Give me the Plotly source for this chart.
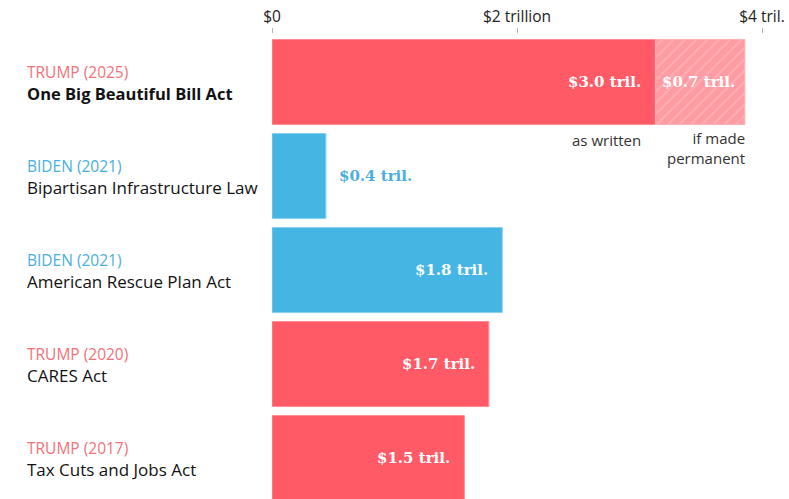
import plotly.graph_objects as go

# ---- data ----
parties = ["TRUMP (2025)", "BIDEN (2021)", "BIDEN (2021)", "TRUMP (2020)", "TRUMP (2017)"]
bills = ["One Big Beautiful Bill Act", "Bipartisan Infrastructure Law",
         "American Rescue Plan Act", "CARES Act", "Tax Cuts and Jobs Act"]
party_keys = ["R", "D", "D", "R", "R"]
values = [3.13, 0.44, 1.88, 1.77, 1.57]          # bar lengths, trillions
value_labels = ["$3.0 tril.", "$0.4 tril.", "$1.8 tril.", "$1.7 tril.", "$1.5 tril."]
extension_value = 0.73                            # OBBBA if made permanent
extension_label = "$0.7 tril."
tick_vals = [0, 2, 4]
tick_text = ["$0", "$2 trillion", "$4 tril."]

# ---- styles ----
RED = "#ff5a66"
RED_LINE = "#ff8d95"
BLUE = "#45b6e3"
BLUE_LINE = "#86d0ef"
RED_TXT = "#f57179"
BLUE_TXT = "#4aafe0"
bar_colors = [RED if p == "R" else BLUE for p in party_keys]
line_colors = [RED_LINE if p == "R" else BLUE_LINE for p in party_keys]
party_colors = [RED_TXT if p == "R" else BLUE_TXT for p in party_keys]
SANS = "Open Sans"
LABEL_FONT = "DejaVu Serif"

ypos = list(range(len(bills)))
BARW = 0.905

fig = go.Figure()
fig.add_trace(go.Bar(
    x=values, y=ypos, orientation="h", width=BARW,
    marker=dict(color=bar_colors, line=dict(color=line_colors, width=1)),
    hoverinfo="skip", showlegend=False,
))
fig.add_trace(go.Bar(
    x=[extension_value], y=[0], base=[values[0]], orientation="h", width=BARW,
    marker=dict(color="#ff9ca3", line=dict(color="#ffb0b6", width=1),
                pattern=dict(shape="/", fgcolor="#ffc8cc", size=8, solidity=0.2,
                             fillmode="overlay")),
    hoverinfo="skip", showlegend=False,
))

ann = []
for i, (v, lab, pk) in enumerate(zip(values, value_labels, party_keys)):
    if v < 1.0:
        ann.append(dict(x=v, y=i, xref="x", yref="y", text=f"<b>{lab}</b>",
                        xanchor="left", yanchor="middle", xshift=11, showarrow=False,
                        font=dict(family=LABEL_FONT, size=15, color=BLUE_TXT)))
    else:
        ann.append(dict(x=v, y=i, xref="x", yref="y", text=f"<b>{lab}</b>",
                        xanchor="right", yanchor="middle", xshift=-12, showarrow=False,
                        font=dict(family=LABEL_FONT, size=15, color="white")))
ann.append(dict(x=values[0] + extension_value, y=0, xref="x", yref="y",
                text=f"<b>{extension_label}</b>", xanchor="right", yanchor="middle",
                xshift=-8, showarrow=False,
                font=dict(family=LABEL_FONT, size=15, color="white")))

# left labels
for i, (p, b, c) in enumerate(zip(parties, bills, party_colors)):
    ann.append(dict(x=-0.505, y=i, xref="paper", yref="y", text=p, xanchor="left",
                    yanchor="middle", yshift=10, showarrow=False,
                    font=dict(family=SANS, size=15.5, color=c)))
    ann.append(dict(x=-0.505, y=i, xref="paper", yref="y",
                    text=(f"<b>{b}</b>" if i == 0 else b), xanchor="left",
                    yanchor="middle", yshift=-11, showarrow=False,
                    font=dict(family=SANS, size=(16.5 if i == 0 else 17), color="#121212")))

# notes under first bar
ann.append(dict(x=values[0], y=0.617, xref="x", yref="y", text="as written",
                xanchor="right", yanchor="middle", xshift=-12, showarrow=False,
                font=dict(family=SANS, size=15, color="#333333")))
ann.append(dict(x=values[0] + extension_value, y=0.707, xref="x", yref="y",
                text="if made<br>permanent", xanchor="right", yanchor="middle",
                align="right", xshift=2, showarrow=False,
                font=dict(family=SANS, size=15, color="#333333")))

fig.update_layout(
    width=789, height=499,
    margin=dict(l=272, r=27, t=34, b=0, pad=0),
    paper_bgcolor="white", plot_bgcolor="white",
    barmode="overlay",
    annotations=ann,
    xaxis=dict(side="top", range=[0, 4], tickvals=tick_vals, ticktext=tick_text,
               ticks="outside", ticklen=5, tickcolor="#b5b5b5", tickwidth=1,
               showgrid=False, zeroline=False, showline=False,
               tickfont=dict(family=SANS, size=15.5, color="#222222"),
               fixedrange=True),
    yaxis=dict(range=[4.436, -0.511], showticklabels=False, showgrid=False,
               zeroline=False, showline=False, fixedrange=True),
    font=dict(family=SANS),
)

fig.write_html("out.html", config={"displayModeBar": False},
               post_script="document.body.style.margin='0';document.body.style.overflow='hidden';")
